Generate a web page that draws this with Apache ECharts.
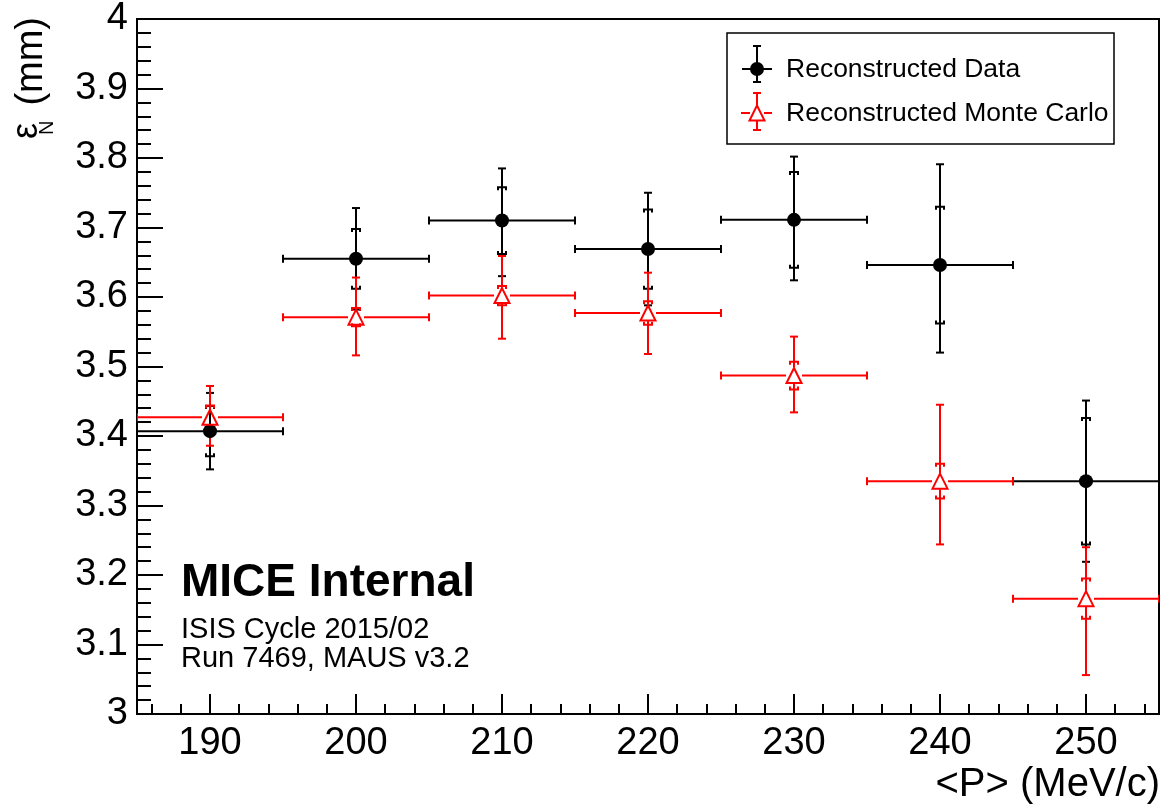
<!DOCTYPE html>
<html>
<head>
<meta charset="utf-8">
<script src="https://cdn.jsdelivr.net/npm/echarts@6/dist/echarts.min.js"></script>
<style>
html, body { margin: 0; padding: 0; background: #fff; }
#main { width: 1169px; height: 807px; }
</style>
</head>
<body>
<div id="main"></div>
<script>
// mean momentum bins (MeV/c), half bin width 5
var momentum = [190, 200, 210, 220, 230, 240, 250];
var binHalf = 5;
// reconstructed data: value, error up / down, inner (bracket) error
var dataVal = [3.407, 3.655, 3.710, 3.669, 3.711, 3.646, 3.335];
var dataErrUp = [0.055, 0.073, 0.075, 0.081, 0.091, 0.145, 0.116];
var dataErrDown = [0.055, 0.073, 0.080, 0.081, 0.087, 0.126, 0.116];
var dataSys = [0.036, 0.043, 0.048, 0.057, 0.069, 0.084, 0.091];
// reconstructed monte carlo
var mcVal = [3.427, 3.571, 3.602, 3.577, 3.487, 3.335, 3.166];
var mcErrUp = [0.045, 0.057, 0.057, 0.058, 0.056, 0.110, 0.074];
var mcErrDown = [0.041, 0.055, 0.062, 0.059, 0.053, 0.091, 0.110];
var mcSys = [0.017, 0.013, 0.014, 0.017, 0.020, 0.025, 0.029];

var FONT = '"Liberation Sans", Arial, Helvetica, sans-serif';

function makeRows(vals, up, down, sys) {
  var rows = [];
  for (var i = 0; i < momentum.length; i++) {
    rows.push([momentum[i], vals[i], up[i], down[i], sys[i]]);
  }
  return rows;
}

// ROOT style error bars: horizontal bin bar, vertical error with caps, inner brackets
function errorBars(color, gap) {
  return function (params, api) {
    var x = api.value(0), y = api.value(1);
    var up = api.value(2), down = api.value(3), s = api.value(4);
    var c = api.coord([x, y]);
    var l = api.coord([x - binHalf, y]);
    var r = api.coord([x + binHalf, y]);
    var top = api.coord([x, y + up])[1];
    var bot = api.coord([x, y - down])[1];
    var sTop = api.coord([x, y + s])[1];
    var sBot = api.coord([x, y - s])[1];
    var st = { stroke: color, lineWidth: 2, fill: null };
    var cap = 4, leg = 3;
    var kids = [];
    function seg(x1, y1, x2, y2) {
      kids.push({ type: 'line', shape: { x1: x1, y1: y1, x2: x2, y2: y2 }, style: st });
    }
    seg(l[0], c[1], c[0] - gap, c[1]);
    seg(c[0] + gap, c[1], r[0], c[1]);
    seg(l[0], c[1] - cap, l[0], c[1] + cap);
    seg(r[0], c[1] - cap, r[0], c[1] + cap);
    seg(c[0], top, c[0], c[1] - gap);
    seg(c[0], c[1] + gap, c[0], bot);
    seg(c[0] - cap, top, c[0] + cap, top);
    seg(c[0] - cap, bot, c[0] + cap, bot);
    kids.push({ type: 'polyline', shape: { points: [[c[0] - cap, sTop + leg], [c[0] - cap, sTop], [c[0] + cap, sTop], [c[0] + cap, sTop + leg]] }, style: st });
    kids.push({ type: 'polyline', shape: { points: [[c[0] - cap, sBot - leg], [c[0] - cap, sBot], [c[0] + cap, sBot], [c[0] + cap, sBot - leg]] }, style: st });
    return { type: 'group', children: kids };
  };
}

function ln(x1, y1, x2, y2, color) {
  return { type: 'line', z: 20, shape: { x1: x1, y1: y1, x2: x2, y2: y2 }, style: { stroke: color, lineWidth: 2 } };
}

var chart = echarts.init(document.getElementById('main'));

var option = {
  animation: false,
  backgroundColor: '#fff',
  grid: {
    left: 137, right: 10, top: 18, bottom: 93,
    show: true, borderColor: '#000', borderWidth: 2, backgroundColor: 'transparent'
  },
  xAxis: {
    type: 'value',
    min: 185,
    max: 255,
    splitLine: { show: false },
    axisLine: { lineStyle: { color: '#000', width: 2 } },
    axisTick: { inside: true, length: 20, lineStyle: { color: '#000', width: 2 } },
    minorTick: { show: true, splitNumber: 5, length: 10, lineStyle: { color: '#000', width: 2 } },
    axisLabel: {
      margin: 11, color: '#000', fontFamily: FONT, fontSize: 38,
      showMinLabel: false, showMaxLabel: false,
      formatter: function (v) { return v % 10 === 0 ? String(v) : ''; }
    }
  },
  yAxis: {
    type: 'value',
    min: 3,
    max: 4,
    interval: 0.1,
    splitLine: { show: false },
    axisLine: { lineStyle: { color: '#000', width: 2 } },
    axisTick: { inside: true, length: 26, lineStyle: { color: '#000', width: 2 } },
    minorTick: { show: true, splitNumber: 5, length: 14, lineStyle: { color: '#000', width: 2 } },
    axisLabel: {
      margin: 9, color: '#000', fontFamily: FONT, fontSize: 38,
      formatter: function (v) { return String(Math.round(v * 10) / 10); }
    }
  },
  series: [
    {
      name: 'Reconstructed Data bars',
      type: 'custom',
      clip: true,
      renderItem: errorBars('#000', 0),
      data: makeRows(dataVal, dataErrUp, dataErrDown, dataSys)
    },
    {
      name: 'Reconstructed Data',
      type: 'scatter',
      symbol: 'circle',
      symbolSize: 14,
      itemStyle: { color: '#000', opacity: 1 },
      data: makeRows(dataVal, dataErrUp, dataErrDown, dataSys)
    },
    {
      name: 'Reconstructed Monte Carlo bars',
      type: 'custom',
      clip: true,
      renderItem: errorBars('#ff0000', 8),
      data: makeRows(mcVal, mcErrUp, mcErrDown, mcSys)
    },
    {
      name: 'Reconstructed Monte Carlo',
      type: 'scatter',
      symbol: 'triangle',
      symbolSize: 15,
      itemStyle: { color: 'rgba(0,0,0,0)', borderColor: '#ff0000', borderWidth: 2, opacity: 1 },
      data: makeRows(mcVal, mcErrUp, mcErrDown, mcSys)
    }
  ],
  graphic: [
    // legend
    { type: 'rect', z: 19, shape: { x: 727, y: 33, width: 387, height: 111 }, style: { fill: '#fff', stroke: '#000', lineWidth: 1.5 } },
    ln(742, 69, 772, 69, '#000'),
    ln(757, 46, 757, 82, '#000'),
    ln(753, 46, 761, 46, '#000'),
    ln(753, 82, 761, 82, '#000'),
    { type: 'circle', z: 21, shape: { cx: 757, cy: 69, r: 7 }, style: { fill: '#000' } },
    { type: 'text', z: 21, x: 786, y: 70, style: { text: 'Reconstructed Data', font: '26.5px ' + FONT, fill: '#000', align: 'left', verticalAlign: 'middle' } },
    ln(741, 113, 750, 113, '#ff0000'),
    ln(764, 113, 772, 113, '#ff0000'),
    ln(757, 93, 757, 106, '#ff0000'),
    ln(757, 120, 757, 130, '#ff0000'),
    ln(753, 93, 761, 93, '#ff0000'),
    ln(753, 130, 761, 130, '#ff0000'),
    { type: 'polygon', z: 21, shape: { points: [[757, 105.5], [749.5, 120.5], [764.5, 120.5]] }, style: { fill: 'none', stroke: '#ff0000', lineWidth: 2 } },
    { type: 'text', z: 21, x: 786, y: 114, style: { text: 'Reconstructed Monte Carlo', font: '26.5px ' + FONT, fill: '#000', align: 'left', verticalAlign: 'middle' } },
    // annotations
    { type: 'text', x: 181, y: 583, style: { text: 'MICE Internal', font: 'bold 46px ' + FONT, fill: '#000', align: 'left', verticalAlign: 'middle' } },
    { type: 'text', x: 181, y: 630, style: { text: 'ISIS Cycle 2015/02', font: '29px ' + FONT, fill: '#000', align: 'left', verticalAlign: 'middle' } },
    { type: 'text', x: 181, y: 659, style: { text: 'Run 7469, MAUS v3.2', font: '29px ' + FONT, fill: '#000', align: 'left', verticalAlign: 'middle' } },
    // axis titles
    { type: 'text', x: 1160, y: 785, style: { text: '<P> (MeV/c)', font: '40px ' + FONT, fill: '#000', align: 'right', verticalAlign: 'middle' } },
    { type: 'text', x: 32, y: 17, rotation: Math.PI / 2, style: { text: '(mm)', font: '38px ' + FONT, fill: '#000', align: 'right', verticalAlign: 'middle' } },
    { type: 'text', x: 27, y: 139, rotation: Math.PI / 2, style: { text: 'ε', font: '36px ' + FONT, fill: '#000', align: 'left', verticalAlign: 'middle' } },
    { type: 'text', x: 47, y: 135, rotation: Math.PI / 2, style: { text: 'N', font: '20px ' + FONT, fill: '#000', align: 'left', verticalAlign: 'middle' } }
  ]
};

chart.setOption(option);
</script>
</body>
</html>
